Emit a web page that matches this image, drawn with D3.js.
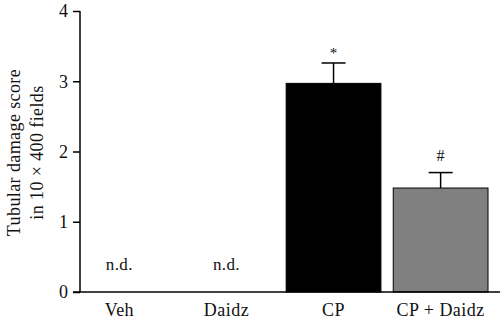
<!DOCTYPE html>
<html><head><meta charset="utf-8">
<script src="https://cdn.jsdelivr.net/npm/d3@7"></script>
<style>body{margin:0;background:#fff}svg{display:block}</style>
</head><body>
<div id="chart"></div>
<script>
const categories = ["Veh", "Daidz", "CP", "CP + Daidz"];
const means = [0, 0, 2.97, 1.48];
const errors = [0, 0, 0.29, 0.22];
const annotations = ["n.d.", "n.d.", "*", "#"];
const fills = ["#000", "#000", "#000", "#808080"];
const yTicks = [0, 1, 2, 3, 4];
const yTitle = ["Tubular damage score", "in 10 \u00d7 400 fields"];

const FONT = "'Liberation Serif', 'Times New Roman', serif";
const W = 500, H = 327;
const svg = d3.select("#chart").append("svg").attr("width", W).attr("height", H);

const y = d3.scaleLinear().domain([0, 4]).range([292, 11]);
const x = d3.scaleBand().domain(categories).range([72, 488]).paddingInner(0.115).paddingOuter(0);

function txt(sel) { return sel.style("font-family", FONT).style("fill", "#111"); }
const markOffset = { "*": 5, "#": 12 };

// bars
categories.forEach((c, i) => {
  const cx = x(c) + x.bandwidth() / 2;
  if (means[i] > 0) {
    svg.append("rect")
      .attr("x", x(c)).attr("width", x.bandwidth())
      .attr("y", y(means[i])).attr("height", y(0) - y(means[i]))
      .attr("fill", fills[i]).attr("stroke", "#000").attr("stroke-width", 1);
    svg.append("line").attr("x1", cx).attr("x2", cx)
      .attr("y1", y(means[i])).attr("y2", y(means[i] + errors[i]))
      .attr("stroke", "#000").attr("stroke-width", 1.5);
    svg.append("line").attr("x1", cx - 12).attr("x2", cx + 12)
      .attr("y1", y(means[i] + errors[i])).attr("y2", y(means[i] + errors[i]))
      .attr("stroke", "#000").attr("stroke-width", 1.5);
    txt(svg.append("text").attr("x", cx).attr("y", y(means[i] + errors[i]) - markOffset[annotations[i]])
      .attr("text-anchor", "middle").style("font-size", annotations[i] === "*" ? "15px" : "16px").text(annotations[i]));
  } else {
    txt(svg.append("text").attr("x", cx).attr("y", y(0) - 22)
      .attr("text-anchor", "middle").style("font-size", "17px").style("letter-spacing", "0.4px").text(annotations[i]));
  }
});

// y axis
const yAxis = svg.append("g").attr("transform", "translate(80,0)")
  .call(d3.axisLeft(y).tickValues(yTicks).tickFormat(d3.format("d")).tickSize(7).tickPadding(5));
yAxis.select(".domain").attr("d", `M0,${y(4)}V${y(0)}`).attr("stroke-width", 1.5);
yAxis.selectAll(".tick line").attr("stroke-width", 1.5);
txt(yAxis.selectAll("text")).style("font-size", "18px");

// x axis line
svg.append("line").attr("x1", 73).attr("x2", 500).attr("y1", y(0)).attr("y2", y(0))
  .attr("stroke", "#000").attr("stroke-width", 1.5);
categories.forEach(c => {
  txt(svg.append("text").attr("x", x(c) + x.bandwidth() / 2).attr("y", 316)
    .attr("text-anchor", "middle").style("font-size", "18px").style("letter-spacing", "0.5px").text(c));
});

// y title
const t = txt(svg.append("text").attr("transform", `translate(0,${(y(0)+y(4))/2 + 1}) rotate(-90)`)
  .attr("text-anchor", "middle").style("font-size", "18px").style("letter-spacing", "0.4px"));
t.append("tspan").attr("x", 0).attr("y", 20).text(yTitle[0]);
t.append("tspan").attr("x", 0).attr("y", 43).text(yTitle[1]);
</script>
</body></html>
